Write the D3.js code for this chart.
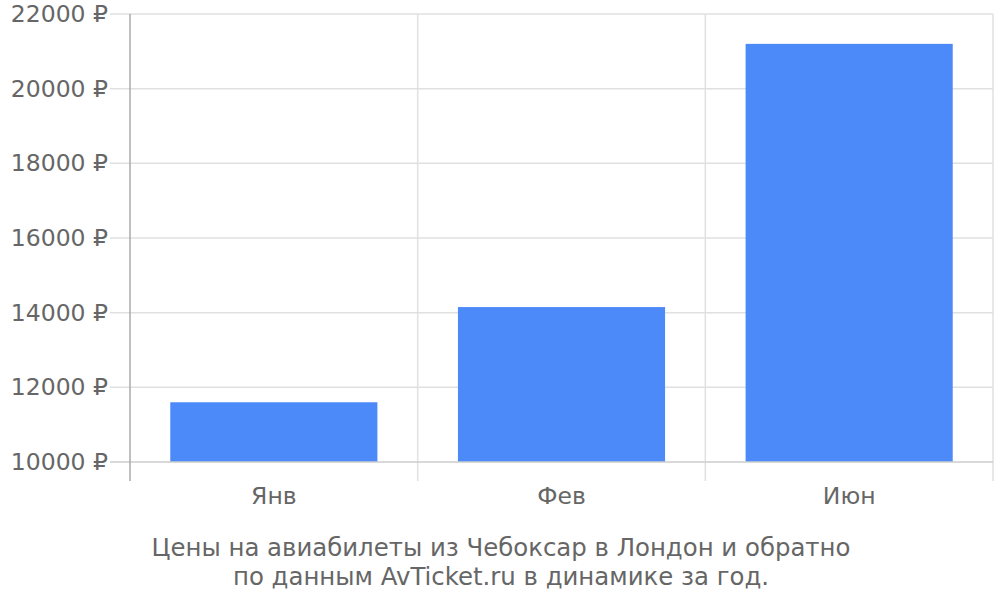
<!DOCTYPE html>
<html>
<head>
<meta charset="utf-8">
<script src="https://cdn.jsdelivr.net/npm/d3@7"></script>
<style>
  body { margin: 0; background: #fff; }
  text { font-family: "DejaVu Sans", sans-serif; fill: #666; }
</style>
</head>
<body>
<div id="chart"></div>
<script>
const months = ['Янв', 'Фев', 'Июн'];
const prices = [11600, 14150, 21200];
const yTicks = [10000, 12000, 14000, 16000, 18000, 20000, 22000];
const titleLines = [
  'Цены на авиабилеты из Чебоксар в Лондон и обратно',
  'по данным AvTicket.ru в динамике за год.'
];

const margin = { top: 14, right: 7, bottom: 138, left: 130 };
const width = 1000 - margin.left - margin.right;
const height = 600 - margin.top - margin.bottom;

const svg = d3.select('#chart')
  .append('svg')
  .attr('width', 1000)
  .attr('height', 600);

const g = svg.append('g')
  .attr('transform', `translate(${margin.left},${margin.top})`);

// band scale for bars, plain band scale for the grid cells
const xScale = d3.scaleBand()
  .domain(months)
  .range([0, width])
  .paddingInner(0.28)
  .paddingOuter(0.14);

const xCell = d3.scaleBand()
  .domain(months)
  .range([0, width]);

const yScale = d3.scaleLinear()
  .domain([10000, 22000])
  .range([height, 0]);

// horizontal grid, extends left into the label area
g.append('g')
  .attr('class', 'grid')
  .selectAll('line')
  .data(yTicks.slice(1))
  .enter().append('line')
  .attr('x1', -20)
  .attr('x2', width)
  .attr('y1', d => yScale(d))
  .attr('y2', d => yScale(d))
  .attr('stroke', '#e0e0e0')
  .attr('stroke-width', 1.5);

// vertical grid at cell boundaries, extends below the baseline
const cellEdges = months.slice(1).map(m => xCell(m)).concat([width]);
g.append('g')
  .selectAll('line')
  .data(cellEdges)
  .enter().append('line')
  .attr('x1', d => d)
  .attr('x2', d => d)
  .attr('y1', 0)
  .attr('y2', height + 19)
  .attr('stroke', '#e0e0e0')
  .attr('stroke-width', 1.5);

// bars
g.selectAll('.bar')
  .data(months)
  .enter().append('rect')
  .attr('class', 'bar')
  .attr('x', d => xScale(d))
  .attr('width', xScale.bandwidth())
  .attr('y', (d, i) => yScale(prices[i]))
  .attr('height', (d, i) => height - yScale(prices[i]))
  .attr('fill', '#4d8af9');

// baseline
g.append('line')
  .attr('x1', -20)
  .attr('x2', width)
  .attr('y1', height)
  .attr('y2', height)
  .attr('stroke', '#cccccc')
  .attr('stroke-width', 1.5);

// left axis line
g.append('line')
  .attr('x1', 0)
  .attr('x2', 0)
  .attr('y1', 0)
  .attr('y2', height + 19)
  .attr('stroke', '#aaaaaa')
  .attr('stroke-width', 1.5);

// Y labels
const yAxis = d3.axisLeft(yScale)
  .tickValues(yTicks)
  .tickSize(0)
  .tickPadding(22)
  .tickFormat(d => `${d} ₽`);

g.append('g')
  .call(yAxis)
  .call(a => a.select('.domain').remove())
  .selectAll('text')
  .style('font-size', '23.5px')
  .attr('fill', '#666');

// X labels
const xAxis = d3.axisBottom(xCell)
  .tickSize(0)
  .tickPadding(25);

g.append('g')
  .attr('transform', `translate(0,${height})`)
  .call(xAxis)
  .call(a => a.select('.domain').remove())
  .selectAll('text')
  .style('font-size', '23.5px')
  .attr('fill', '#666');

// caption
svg.append('g')
  .selectAll('text')
  .data(titleLines)
  .enter().append('text')
  .attr('x', 501)
  .attr('y', (d, i) => 556 + i * 29)
  .attr('text-anchor', 'middle')
  .style('font-size', '24.4px')
  .text(d => d);
</script>
</body>
</html>
